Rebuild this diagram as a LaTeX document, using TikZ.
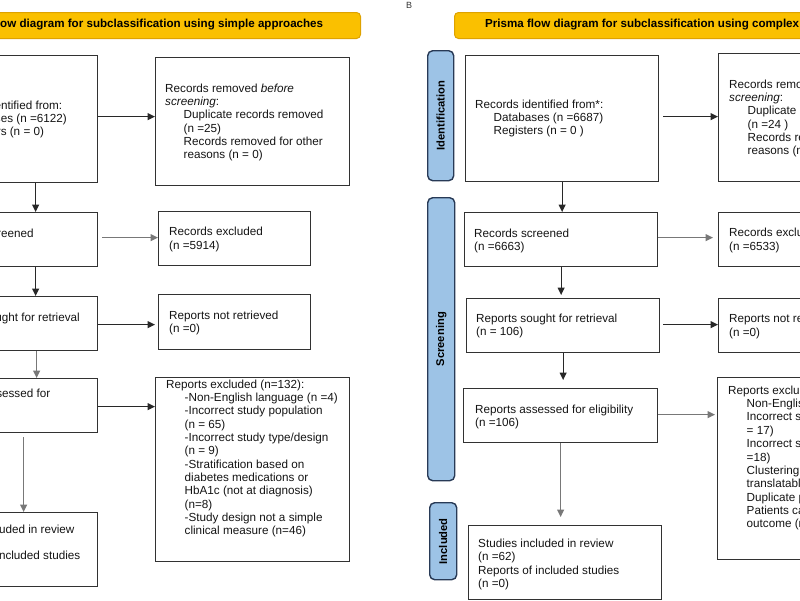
\documentclass[tikz,border=0pt]{standalone}
\usepackage{fontspec}
\setmainfont{Liberation Sans}
\usetikzlibrary{arrows.meta}
\definecolor{gold}{RGB}{250,192,0}
\definecolor{goldb}{RGB}{222,162,0}
\definecolor{lblue}{RGB}{157,195,230}
\definecolor{navy}{RGB}{40,58,86}
\definecolor{boxc}{RGB}{50,50,50}
\definecolor{arrd}{RGB}{40,40,40}
\definecolor{arrg}{RGB}{120,120,120}
\tikzset{
  flowbox/.style={draw=boxc, line width=1.3pt, rectangle, inner sep=0pt, anchor=north west},
  banner/.style={draw=goldb, fill=gold, line width=1pt, rounded corners=4pt, rectangle, inner sep=0pt, anchor=north west},
  phase/.style={draw=navy, fill=lblue, line width=1.4pt, rounded corners=5pt, rectangle, inner sep=0pt, anchor=north west},
  txt/.style={anchor=west, align=left, inner sep=0pt, font=\fontsize{11.7}{13.35}\selectfont, text=black!92},
  btxt/.style={anchor=west, inner sep=0pt, font=\fontsize{11.6}{13}\selectfont\bfseries, text=black},
  ptxt/.style={inner sep=0pt, rotate=90, font=\fontsize{11.2}{13}\selectfont\bfseries, text=black},
  conn/.style={-{Triangle[length=7.5pt,width=7pt]}, line width=1.1pt, draw=arrd},
  conng/.style={conn, draw=arrg},
}
\newcommand{\ind}{\hspace*{18.5pt}}
\begin{document}
\begin{tikzpicture}[x=1pt,y=-1pt]
\useasboundingbox (0,0) rectangle (800,600);
\clip (0,0) rectangle (800,600);

% ---------------- Panel A ----------------
\node[banner, minimum width=446pt, minimum height=26pt] (bA) at (-86,12) {};
\node[btxt] (bAt) at (-49,25) {Prisma flow diagram for subclassification using simple approaches};

\node[flowbox, minimum width=193pt, minimum height=127pt] (L1) at (-96,55) {};
\node[flowbox, minimum width=193pt, minimum height=54pt] (L2) at (-96,212) {};
\node[flowbox, minimum width=193pt, minimum height=54pt] (L3) at (-96,296) {};
\node[flowbox, minimum width=193pt, minimum height=54pt] (L4) at (-96,378) {};
\node[flowbox, minimum width=193pt, minimum height=74pt] (L5) at (-96,512) {};

\node[flowbox, minimum width=194pt, minimum height=128pt] (LR1) at (155,57) {};
\node[flowbox, minimum width=152pt, minimum height=54pt] (LR2) at (158,211) {};
\node[flowbox, minimum width=152pt, minimum height=55pt] (LR3) at (158,294) {};
\node[flowbox, minimum width=194pt, minimum height=184pt] (LR4) at (155,377) {};

\node[txt] (L1t) at (-61.5,119.5) {Records identified from:\\\ind Databases (n =6122)\\\ind Registers (n = 0)};
\node[txt] (L2t) at (-61.5,233) {Records screened};
\node[txt] (L3t) at (-61.5,318) {Reports sought for retrieval};
\node[txt] (L4t) at (-60.5,394) {Reports assessed for};
\node[txt] (L5t) at (-61,543.5) {Studies included in review\\[13.35pt]Reports of included studies};

\node[txt] (LR1t) at (165,122.5) {Records removed \textit{before}\\\textit{screening}:\\\ind Duplicate records removed\\\ind (n =25)\\\ind Records removed for other\\\ind reasons (n = 0)};
\node[txt] (LR2t) at (169,239.5) {Records excluded\\(n =5914)};
\node[txt] (LR3t) at (169,323) {Reports not retrieved\\(n =0)};
\node[txt] (LR4t) at (166,458.5) {Reports excluded (n=132):\\\ind -Non-English language (n =4)\\\ind -Incorrect study population\\\ind (n = 65)\\\ind -Incorrect study type/design\\\ind (n = 9)\\\ind -Stratification based on\\\ind diabetes medications or\\\ind HbA1c (not at diagnosis)\\\ind (n=8)\\\ind -Study design not a simple\\\ind clinical measure (n=46)};

\draw[conn] ([yshift=2.5pt]L1.east) -- ([yshift=2.5pt]L1.east -| LR1.west);
\draw[conng, shorten <=4pt] ([yshift=2pt]L2.east) -- ([yshift=2pt]L2.east -| LR2.west);
\draw[conn, shorten >=3pt] ([yshift=-1pt]L3.east) -- ([yshift=-1pt]L3.east -| LR3.west);
\draw[conn] ([yshift=-1pt]L4.east) -- ([yshift=-1pt]L4.east -| LR4.west);

\draw[conn] ([xshift=34.5pt]L1.south) -- ([xshift=34.5pt]L2.north);
\draw[conn] ([xshift=34.5pt]L2.south) -- ([xshift=34.5pt]L3.north);
\draw[conng] ([xshift=35.5pt]L3.south) -- ([xshift=35.5pt]L4.north);
\draw[conng, shorten <=4pt] ([xshift=22.5pt]L4.south) -- ([xshift=22.5pt]L5.north);

% ---------------- Panel B ----------------
\node[inner sep=0pt, font=\fontsize{9}{10}\selectfont, text=black!80] (Blab) at (409,5) {B};
\node[banner, minimum width=443pt, minimum height=26pt] (bB) at (454,12) {};
\node[btxt] (bBt) at (485,25) {Prisma flow diagram for subclassification using complex approaches};

\node[phase, minimum width=26pt, minimum height=130pt] (P1) at (427,50) {};
\node[phase, minimum width=27pt, minimum height=283pt] (P2) at (427,197) {};
\node[phase, minimum width=27pt, minimum height=77pt] (P3) at (429,502) {};
\node[ptxt] (P1t) at (P1.center) {Identification};
\node[ptxt] (P2t) at (P2.center) {Screening};
\node[ptxt] (P3t) at (P3.center) {Included};

\node[flowbox, minimum width=193pt, minimum height=126pt] (R1) at (465,55) {};
\node[flowbox, minimum width=193pt, minimum height=54pt] (R2) at (464,212) {};
\node[flowbox, minimum width=193pt, minimum height=54pt] (R3) at (466,298) {};
\node[flowbox, minimum width=194pt, minimum height=54pt] (R4) at (463,388) {};
\node[flowbox, minimum width=193pt, minimum height=74pt] (R5) at (468,525) {};

\node[flowbox, minimum width=194pt, minimum height=128pt] (RR1) at (718,53) {};
\node[flowbox, minimum width=152pt, minimum height=54pt] (RR2) at (718,212) {};
\node[flowbox, minimum width=152pt, minimum height=54pt] (RR3) at (718,298) {};
\node[flowbox, minimum width=194pt, minimum height=182pt] (RR4) at (717,377) {};

\node[txt] (R1t) at (475,118.5) {Records identified from*:\\\ind Databases (n =6687)\\\ind Registers (n = 0 )};
\node[txt] (R2t) at (474,241) {Records screened\\(n =6663)};
\node[txt] (R3t) at (476,326) {Reports sought for retrieval\\(n = 106)};
\node[txt] (R4t) at (475,417) {Reports assessed for eligibility\\(n =106)};
\node[txt] (R5t) at (478,564.5) {Studies included in review\\(n =62)\\Reports of included studies\\(n =0)};

\node[txt] (RR1t) at (729,118.5) {Records removed\\\textit{screening}:\\\ind Duplicate records\\\ind (n =24 )\\\ind Records removed\\\ind reasons (n = 0)};
\node[txt] (RR2t) at (729,240.5) {Records excluded\\(n =6533)};
\node[txt] (RR3t) at (729,326.5) {Reports not retrieved\\(n =0)};
\node[txt] (RR4t) at (728,458) {Reports excluded\\\ind Non-English\\\ind Incorrect study\\\ind = 17)\\\ind Incorrect study\\\ind =18)\\\ind Clustering\\\ind translatable\\\ind Duplicate patients\\\ind Patients categorised\\\ind outcome (n};

\draw[conn, shorten <=4pt] ([yshift=2pt]R1.east) -- ([yshift=2pt]R1.east -| RR1.west);
\draw[conng, shorten >=5pt] ([yshift=2pt]R2.east) -- ([yshift=2pt]R2.east -| RR2.west);
\draw[conn, shorten <=3pt] ([yshift=1pt]R3.east) -- ([yshift=1pt]R3.east -| RR3.west);
\draw[conng, shorten >=2pt] ([yshift=1pt]R4.east) -- ([yshift=1pt]R4.east -| RR4.west);

\draw[conn] (R1.south) -- (R1.south |- R2.north);
\draw[conn, shorten >=3pt] (R2.south) -- (R2.south |- R3.north);
\draw[conn, shorten >=8pt] (R3.south) -- (R3.south |- R4.north);
\draw[conng, shorten >=8pt] (R4.south) -- (R4.south |- R5.north);
\end{tikzpicture}
\end{document}
